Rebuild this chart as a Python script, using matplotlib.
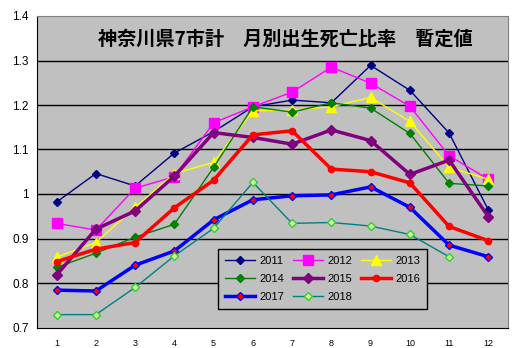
import matplotlib
matplotlib.use("Agg")
import matplotlib.pyplot as plt
import numpy as np

plt.rcParams['font.family'] = ['Liberation Sans', 'DejaVu Sans']

months = list(range(1, 13))
month_labels = [str(m) for m in months]
title = "神奈川県7市計　月別出生死亡比率　暫定値"

y2011 = [0.982, 1.046, 1.018, 1.092, 1.140, 1.196, 1.211, 1.205, 1.289, 1.233, 1.137, 0.964]
y2012 = [0.934, 0.919, 1.013, 1.039, 1.160, 1.196, 1.229, 1.285, 1.249, 1.197, 1.086, 1.033]
y2013 = [0.858, 0.891, 0.970, 1.046, 1.071, 1.187, 1.189, 1.196, 1.217, 1.163, 1.060, 1.033]
y2014 = [0.835, 0.867, 0.903, 0.932, 1.060, 1.196, 1.184, 1.205, 1.193, 1.136, 1.024, 1.018]
y2015 = [0.818, 0.921, 0.962, 1.040, 1.138, 1.127, 1.112, 1.144, 1.120, 1.044, 1.076, 0.949]
y2016 = [0.848, 0.876, 0.891, 0.969, 1.031, 1.133, 1.142, 1.056, 1.050, 1.025, 0.927, 0.895]
y2017 = [0.784, 0.782, 0.840, 0.872, 0.942, 0.987, 0.996, 0.998, 1.016, 0.970, 0.885, 0.859]
y2018 = [0.729, 0.729, 0.790, 0.861, 0.923, 1.026, 0.934, 0.936, 0.928, 0.909, 0.859]

fig = plt.figure(figsize=(5.19, 3.48), dpi=100)
ax = fig.add_axes([37/519, 1 - 327.5/348, 471/519, 311.5/348])
ax.set_facecolor('#C0C0C0')

ax.set_xlim(0.5, 12.5)
ax.set_ylim(0.7, 1.4)
ax.set_yticks([0.7, 0.8, 0.9, 1.0, 1.1, 1.2, 1.3, 1.4])
ax.set_yticklabels(['0.7', '0.8', '0.9', '1', '1.1', '1.2', '1.3', '1.4'], fontsize=8.5)
ax.set_xticks(months)
ax.set_xticklabels(month_labels, fontsize=6.5)
ax.tick_params(axis='both', length=0, pad=6)
ax.tick_params(axis='x', pad=8)
for yv in [0.8, 0.9, 1.0, 1.1, 1.2, 1.3]:
    ax.axhline(yv, color='black', lw=1.0, zorder=1)
for s in ['top', 'right']:
    ax.spines[s].set_color('#808080')
for s in ['left', 'bottom']:
    ax.spines[s].set_color('black')

h = {}
h['2011'], = ax.plot(months, y2011, color='#000080', lw=1, marker='D', ms=4.5, mfc='#000080', mec='#000080', zorder=3)
h['2012'], = ax.plot(months, y2012, color='#FF00FF', lw=1, marker='s', ms=7, mfc='#FF00FF', mec='#FF00FF', zorder=3)
h['2013'], = ax.plot(months, y2013, color='#FFFF00', lw=1, marker='^', ms=7, mfc='#FFFF00', mec='#FFFF00', zorder=3)
h['2014'], = ax.plot(months, y2014, color='#008000', lw=1, marker='D', ms=4.5, mfc='#008000', mec='#008000', zorder=3)
h['2015'], = ax.plot(months, y2015, color='#800080', lw=2.5, marker='D', ms=5, mfc='#800080', mec='#800080', zorder=3)
h['2016'], = ax.plot(months, y2016, color='#FF0000', lw=2.5, marker='o', ms=4.5, mfc='#FF0000', mec='#FF0000', zorder=3)
h['2017'], = ax.plot(months, y2017, color='#0000FF', lw=2.5, marker='D', ms=4.5, mfc='#FF0000', mec='#0000FF', mew=1, zorder=3)
h['2018'], = ax.plot(months[:len(y2018)], y2018, color='#008080', lw=1, marker='D', ms=4.5, mfc='#CCFF99', mec='#33CC33', mew=1, zorder=3)

order = ['2011', '2014', '2017', '2012', '2015', '2018', '2013', '2016']
leg = ax.legend([h[k] for k in order], order, ncol=3, loc='upper left',
                bbox_to_anchor=((218 - 37) / 471, (327.5 - 249) / 311.5),
                fontsize=8, frameon=True, fancybox=False, edgecolor='black',
                facecolor='#C0C0C0', framealpha=1, handlelength=2.7,
                columnspacing=0.8, handletextpad=0.4, labelspacing=0.75,
                borderpad=0.6, borderaxespad=0)
leg.get_frame().set_linewidth(1.0)
leg.set_zorder(5)

ax.text((285 - 37) / 471, (327.5 - 39) / 311.5, title, transform=ax.transAxes,
        ha='center', va='center', fontsize=13.8, fontweight='bold',
        family=['Noto Sans CJK JP', 'DejaVu Sans'])

fig.savefig('out.png', dpi=100, facecolor='white')
